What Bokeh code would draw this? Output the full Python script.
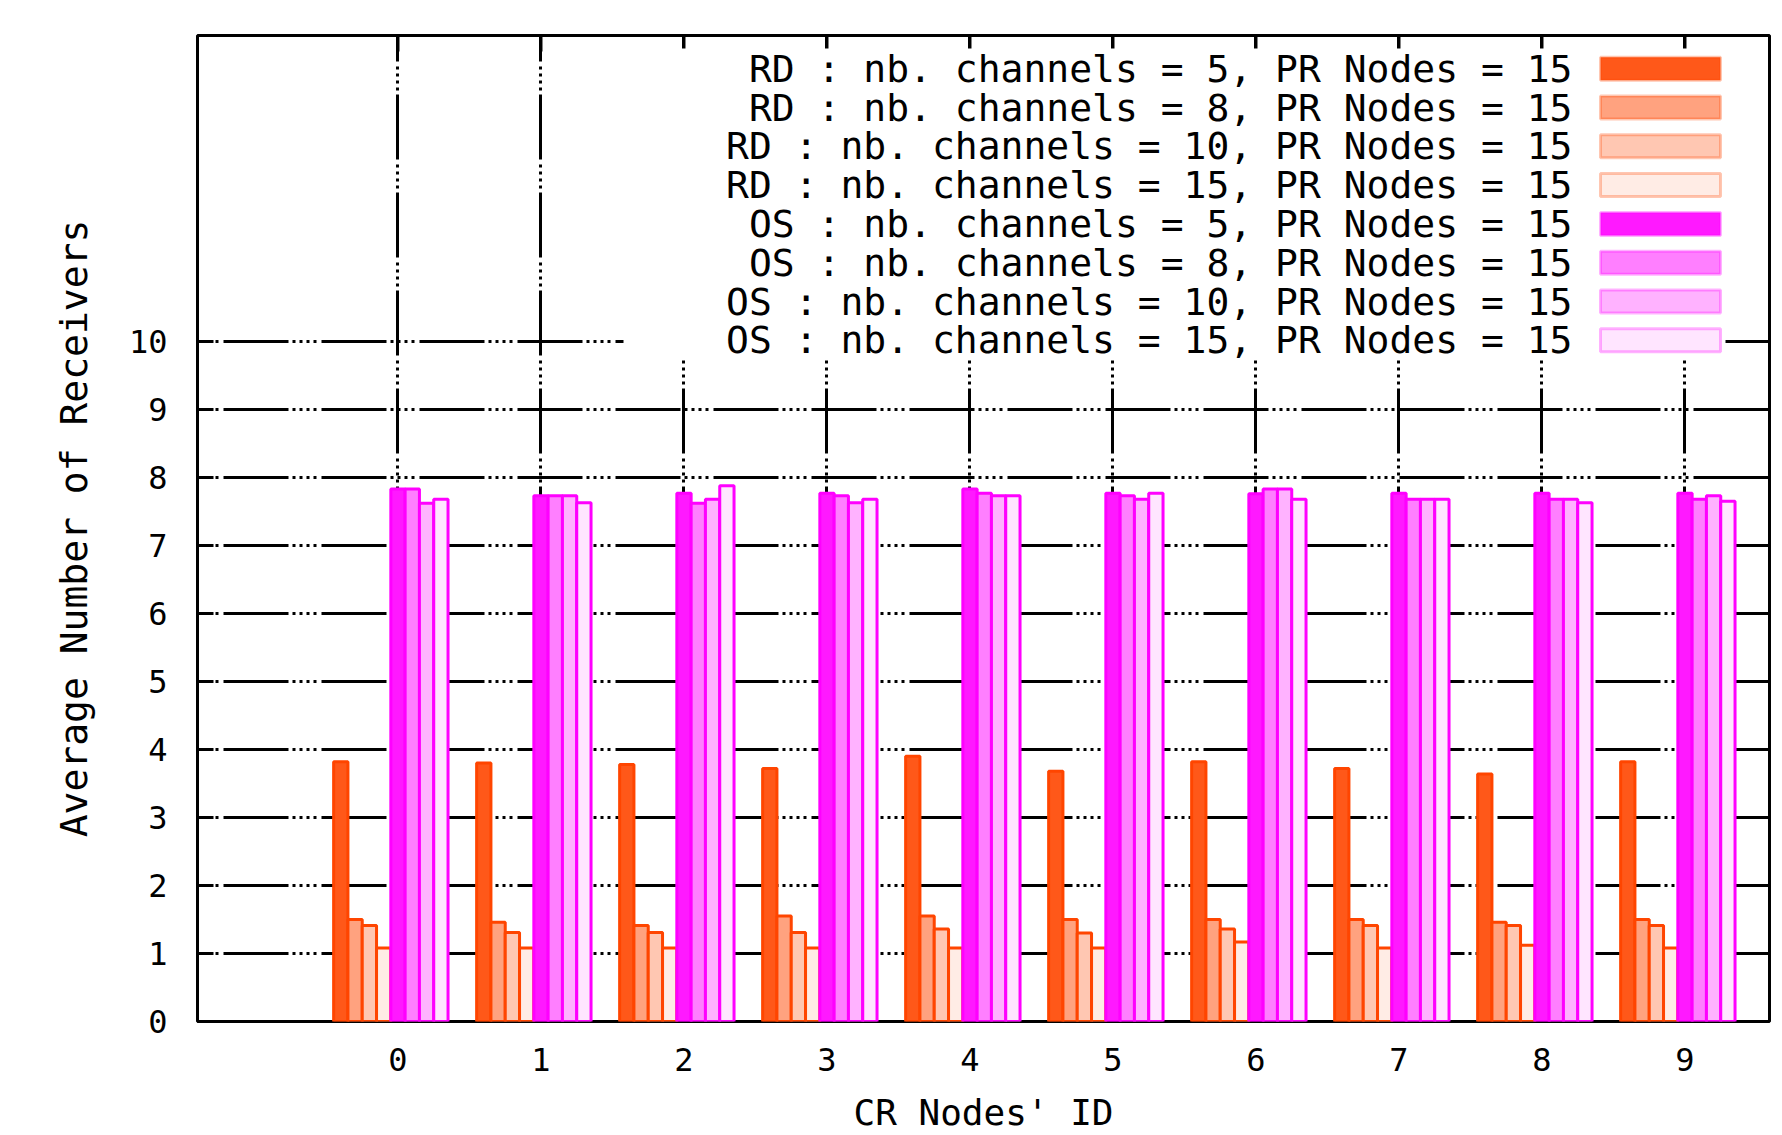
import numpy as np
from bokeh.plotting import figure
from bokeh.models import Range1d, FixedTicker, Label, BoxAnnotation, ColumnDataSource
from bokeh.transform import dodge
from bokeh.embed import file_html
from bokeh.resources import INLINE

# ---------------- data ----------------
nodes = [0, 1, 2, 3, 4, 5, 6, 7, 8, 9]
y_ticks = [0, 1, 2, 3, 4, 5, 6, 7, 8, 9, 10]

rd5 = [3.82, 3.80, 3.78, 3.72, 3.90, 3.68, 3.82, 3.72, 3.64, 3.82]
rd8 = [1.50, 1.46, 1.41, 1.55, 1.55, 1.50, 1.50, 1.50, 1.46, 1.50]
rd10 = [1.41, 1.31, 1.31, 1.31, 1.36, 1.30, 1.36, 1.41, 1.41, 1.41]
rd15 = [1.08, 1.08, 1.08, 1.08, 1.08, 1.08, 1.17, 1.08, 1.12, 1.08]
os5 = [7.83, 7.73, 7.77, 7.77, 7.83, 7.77, 7.76, 7.77, 7.77, 7.77]
os8 = [7.83, 7.73, 7.62, 7.73, 7.77, 7.73, 7.83, 7.68, 7.68, 7.68]
os10 = [7.62, 7.73, 7.68, 7.63, 7.73, 7.68, 7.83, 7.68, 7.68, 7.73]
os15 = [7.68, 7.63, 7.88, 7.68, 7.73, 7.77, 7.68, 7.68, 7.63, 7.65]

series_labels = [
    "RD : nb. channels = 5, PR Nodes = 15",
    "RD : nb. channels = 8, PR Nodes = 15",
    "RD : nb. channels = 10, PR Nodes = 15",
    "RD : nb. channels = 15, PR Nodes = 15",
    "OS : nb. channels = 5, PR Nodes = 15",
    "OS : nb. channels = 8, PR Nodes = 15",
    "OS : nb. channels = 10, PR Nodes = 15",
    "OS : nb. channels = 15, PR Nodes = 15",
]
series_keys = ["rd5", "rd8", "rd10", "rd15", "os5", "os8", "os10", "os15"]
x_title = "CR Nodes' ID"
y_title = "Average Number of Receivers"

# ---------------- styles ----------------
RD_LINE = "#FF4500"
OS_LINE = "#FF00FF"
fills = ["#FF5819", "#FFA27F", "#FFC7B2", "#FFECE5",
         "#FF19FF", "#FF7FFF", "#FFB2FF", "#FFE5FF"]
lines = [RD_LINE] * 4 + [OS_LINE] * 4
FONT = "DejaVu Sans Mono"
GRID_DASH = "65 4 3 4 3 4 3 4 3 5"

# ---------------- layout (canvas px) ----------------
W, H = 1782, 1135
L, R, T, B = 197, 1769, 35, 1021
PXU = 143.0
XS = -1.402
XE = XS + (R - L) / PXU
YMAX = 14.5
PXY = (B - T) / YMAX


def dx(cx):
    return XS + (cx - L) / PXU


def dy(cy):
    return (B - cy) / PXY


p = figure(width=W, height=H, x_range=Range1d(XS, XE), y_range=Range1d(0, YMAX),
           output_backend="svg", toolbar_location=None, title=None,
           min_border_left=L, min_border_right=W - R,
           min_border_top=T, min_border_bottom=H - B)
p.background_fill_color = "white"
p.border_fill_color = "white"
p.outline_line_color = "black"
p.outline_line_width = 3

# grid
p.xgrid.ticker = FixedTicker(ticks=nodes)
p.ygrid.ticker = FixedTicker(ticks=y_ticks)
for g, off in ((p.xgrid, 20), (p.ygrid, 72)):
    g.grid_line_color = "black"
    g.grid_line_width = 3
    g.grid_line_dash = GRID_DASH
    g.grid_line_dash_offset = off

# axes
p.xaxis.ticker = FixedTicker(ticks=nodes)
p.yaxis.ticker = FixedTicker(ticks=y_ticks)
for ax in (p.xaxis, p.yaxis):
    ax.axis_line_color = None
    ax.minor_tick_line_color = None
    ax.major_tick_out = 0
    ax.major_tick_line_width = 3
    ax.major_tick_line_color = "black"
    ax.major_label_text_font = FONT
    ax.major_label_text_font_size = "32px"
    ax.major_label_text_color = "black"
    ax.axis_label_text_font = FONT
    ax.axis_label_text_font_style = "normal"
    ax.axis_label_text_color = "black"
p.xaxis.major_tick_in = 0
p.xaxis.major_label_standoff = 26
p.xaxis.axis_label = x_title
p.xaxis.axis_label_text_font_size = "36px"
p.xaxis.axis_label_standoff = 18
p.yaxis.major_tick_in = 16
p.yaxis.major_label_standoff = 30
p.yaxis.axis_label = y_title
p.yaxis.axis_label_text_font_size = "38px"
p.yaxis.axis_label_standoff = 30

# bars
data = dict(x=nodes, rd5=rd5, rd8=rd8, rd10=rd10, rd15=rd15,
            os5=os5, os8=os8, os10=os10, os15=os15)
src = ColumnDataSource(data)
n = len(series_keys)
bw = 1.0 / (n + 2)
for j, key in enumerate(series_keys):
    p.vbar(x=dodge("x", (j - n / 2) * bw), top=key, bottom=0, width=bw, source=src,
           fill_color=fills[j], line_color=lines[j], line_width=3)

# mirror ticks (top and right)
TL = 16
p.segment(x0=nodes, x1=nodes, y0=[YMAX] * len(nodes), y1=[YMAX - TL / PXY] * len(nodes),
          line_color="black", line_width=3)
p.segment(x0=[XE] * len(y_ticks), x1=[XE - TL / PXU] * len(y_ticks), y0=y_ticks, y1=y_ticks,
          line_color="black", line_width=3)

# legend (opaque box, label right-aligned, sample on the right)
p.add_layout(BoxAnnotation(left=dx(623), right=dx(1725), top=dy(48), bottom=dy(358),
                           fill_color="white", fill_alpha=1.0, line_color=None))
ROW0, ROWH = 68.2, 38.8
for k, lab in enumerate(series_labels):
    cy = ROW0 + ROWH * k
    p.add_layout(Label(x=dx(1572), y=dy(cy), text=lab, text_font=FONT,
                       text_font_size="38px", text_align="right", text_baseline="middle",
                       text_color="black"))
    p.add_layout(BoxAnnotation(left=dx(1600), right=dx(1720), top=dy(cy - 11.5),
                               bottom=dy(cy + 11.5), fill_color=fills[k], fill_alpha=1.0,
                               line_color=lines[k], line_width=3))

open("out.html", "w").write(file_html(p, INLINE))
